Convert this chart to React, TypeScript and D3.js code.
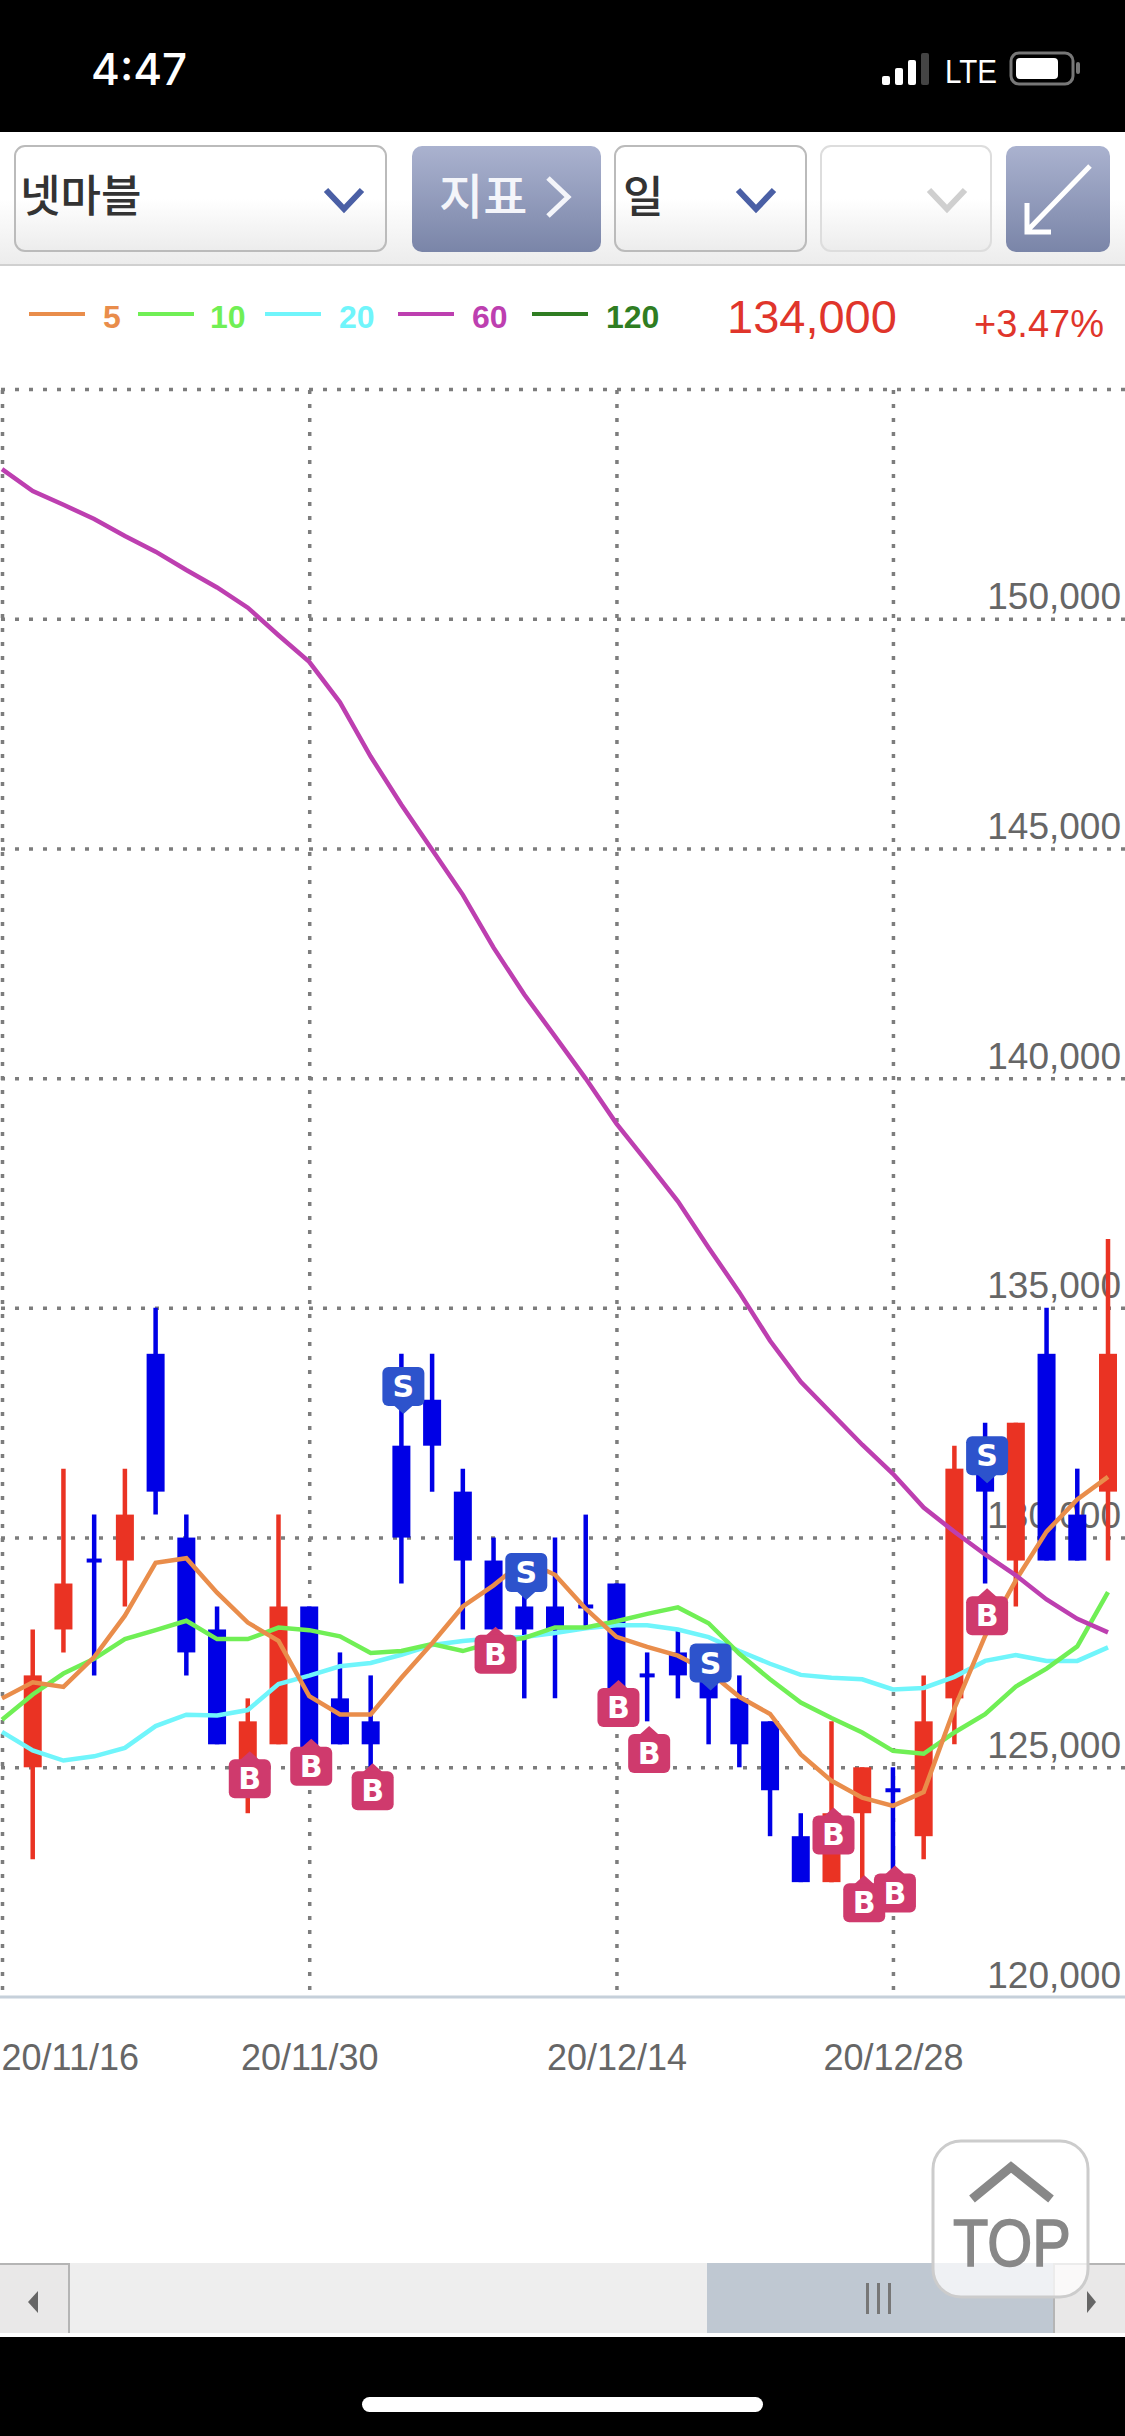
import React, { useEffect, useRef } from "react";
import * as d3 from "d3";

const dates = [
  "20/11/16", "20/11/17", "20/11/18", "20/11/19", "20/11/20", "20/11/23", "20/11/24", "20/11/25", "20/11/26", "20/11/27",
  "20/11/30", "20/12/01", "20/12/02", "20/12/03", "20/12/04", "20/12/07", "20/12/08", "20/12/09", "20/12/10", "20/12/11",
  "20/12/14", "20/12/15", "20/12/16", "20/12/17", "20/12/18", "20/12/21", "20/12/22", "20/12/23", "20/12/24", "20/12/28",
  "20/12/29", "20/12/30", "21/01/04", "21/01/05", "21/01/06", "21/01/07", "21/01/08",
];
const dateTicks = ["20/11/16", "20/11/30", "20/12/14", "20/12/28"];
const priceTicks = [120000, 125000, 130000, 135000, 140000, 145000, 150000];

// candles start at the second date, the first one is scrolled off
const candleDates = dates.slice(1);
const opens = [125000, 128000, 129500, 129500, 134000, 130000, 128000, 125000, 125500, 128500, 126500, 126000, 132000, 133000, 131000, 129500, 128500, 128500, 128500, 129000, 127000, 127500, 127000, 126500, 126000, 123500, 122500, 124000, 124500, 123500, 126500, 132000, 129500, 134000, 130500, 131000];
const closes = [127000, 129000, 129500, 130500, 131000, 127500, 125500, 126000, 128500, 125000, 125500, 125500, 130000, 132000, 129500, 128000, 128000, 128000, 128500, 126500, 127000, 127000, 126500, 125500, 124500, 122500, 124000, 125000, 124500, 126000, 131500, 131000, 132500, 129500, 129500, 134000];
const highs = [128000, 131500, 130500, 131500, 135000, 130500, 128500, 126500, 130500, 128500, 127500, 127000, 134000, 134000, 131500, 130000, 129000, 130000, 130500, 129000, 127500, 128000, 127500, 127000, 126000, 124000, 126000, 125000, 125000, 127000, 132000, 132500, 132500, 135000, 131500, 136500];
const lows = [123000, 127500, 127000, 128500, 130500, 127000, 125500, 124000, 125500, 125000, 125500, 125000, 129000, 131000, 128000, 128000, 126500, 126500, 128000, 126500, 126000, 126500, 125500, 125000, 123500, 122500, 122500, 122500, 122500, 123000, 125500, 129000, 128500, 129500, 129500, 129500];

const ma5 = [126500, 126850, 126750, 127400, 128300, 129450, 129550, 128800, 128150, 127750, 126550, 126150, 126150, 126950, 127700, 128500, 128960, 129500, 129190, 128450, 127840, 127620, 127430, 127085, 126535, 126160, 125280, 124705, 124340, 124160, 124460, 126280, 127860, 129070, 130130, 130830, 131320];
const ma10 = [126035, 126585, 127040, 127360, 127790, 127985, 128190, 127790, 127790, 128040, 127985, 127850, 127490, 127530, 127680, 127530, 127720, 127815, 128045, 128045, 128180, 128340, 128480, 128135, 127470, 126916, 126410, 126074, 125758, 125358, 125295, 125758, 126158, 126758, 127147, 127632, 128811];
const ma20 = [125770, 125366, 125147, 125238, 125421, 125897, 126145, 126126, 126245, 126813, 126996, 127198, 127271, 127450, 127660, 127751, 127806, 127834, 127925, 128026, 128090, 128090, 127998, 127834, 127530, 127253, 127011, 126947, 126916, 126695, 126726, 126968, 127316, 127442, 127316, 127316, 127611];
const ma60 = [153256, 152780, 152480, 152170, 151800, 151460, 151060, 150680, 150240, 149640, 149060, 148180, 147000, 145950, 144970, 143990, 142840, 141820, 140910, 139990, 139010, 138170, 137320, 136310, 135337, 134284, 133390, 132705, 132021, 131389, 130653, 130126, 129632, 129179, 128653, 128232, 127937];

const buyDates = ["20/11/26", "20/11/30", "20/12/02", "20/12/08", "20/12/14", "20/12/15", "20/12/23", "20/12/28", "20/12/24", "21/01/04"];
const buyLevels = [125350, 125620, 125090, 128060, 126900, 125900, 124126, 122860, 122650, 128895];
const sellDates = ["20/12/03", "20/12/09", "20/12/17", "21/01/04"];
const sellLevels = [132690, 128640, 126670, 131180];

const legendLabels = ["5", "10", "20", "60", "120"];
const legendColors = ["#e98d4b", "#70ef55", "#70f5fb", "#bd3fb0", "#2f7d22"];
const legendLineX = [29, 138, 265, 398, 532];
const legendTextX = [103, 210, 339, 472, 606];

const RED = "#ea3323";
const BLUE = "#0000e6";
const BUY = "#cf3a6d";
const SELL = "#2d53cc";
const SANS = "'Liberation Sans', sans-serif";
const CJK = "'Noto Sans CJK KR', sans-serif";

const Chevron = ({ x, color }: { x: number; color: string }) => (
  <path d={`M${x + 2},190 L${x + 20},209 L${x + 38},190`} fill="none" stroke={color} strokeWidth={6} />
);

export default function App() {
  const chartRef = useRef<SVGGElement>(null);

  useEffect(() => {
    const g = d3.select(chartRef.current);
    g.selectAll("*").remove();

    const x = d3.scalePoint<string>().domain(dates).range([2, 1108]);
    const y = d3.scaleLinear().domain([120000, 155000]).range([1997, 389]);

    // horizontal grid and price labels sit under the candles
    const yAxis = d3.axisLeft(y)
      .tickValues([...priceTicks, 155000])
      .tickSize(1125)
      .tickFormat((d) => (+d === 155000 ? "" : d3.format(",")(+d)));
    const yg = g.append("g").attr("transform", "translate(1125,0)").call(yAxis);
    yg.select(".domain").remove();
    yg.selectAll(".tick line")
      .attr("stroke", (d: any) => (d === 120000 ? "none" : "#7d7d7d"))
      .attr("stroke-width", 3.5)
      .attr("stroke-dasharray", "4 10");
    yg.selectAll(".tick text")
      .attr("x", -4)
      .attr("y", -10)
      .attr("dy", 0)
      .attr("text-anchor", "end")
      .style("font-family", SANS)
      .style("font-size", "37px")
      .attr("fill", "#666");

    // vertical grid
    const xAxis = d3.axisBottom(x)
      .tickValues(dateTicks)
      .tickSize(1607);
    const xg = g.append("g").attr("transform", "translate(0,390)").call(xAxis);
    xg.select(".domain").remove();
    xg.selectAll(".tick line")
      .attr("stroke", "#7d7d7d")
      .attr("stroke-width", 3.5)
      .attr("stroke-dasharray", "4 10");
    xg.selectAll(".tick text")
      .attr("y", 1680)
      .attr("dy", 0)
      .attr("text-anchor", (d: any) => (d === "20/11/16" ? "start" : "middle"))
      .attr("x", (d: any) => (d === "20/11/16" ? -1 : 0))
      .style("font-family", SANS)
      .style("font-size", "36px")
      .attr("fill", "#666");

    // base line
    g.append("line")
      .attr("x1", 0).attr("x2", 1125)
      .attr("y1", y(120000)).attr("y2", y(120000))
      .attr("stroke", "#c6d0da")
      .attr("stroke-width", 3);

    // candles
    const candleColor = (i: number) => (closes[i] > opens[i] ? RED : BLUE);
    const candles = g.append("g").selectAll("g").data(candleDates).join("g");
    candles.append("line")
      .attr("x1", (d) => x(d)!).attr("x2", (d) => x(d)!)
      .attr("y1", (_, i) => y(highs[i]))
      .attr("y2", (_, i) => y(lows[i]))
      .attr("stroke", (_, i) => candleColor(i))
      .attr("stroke-width", 4.5);
    candles.append("rect")
      .attr("x", (d, i) => x(d)! - (opens[i] === closes[i] ? 7.5 : 9))
      .attr("width", (_, i) => (opens[i] === closes[i] ? 15 : 18))
      .attr("y", (_, i) => y(Math.max(opens[i], closes[i])) - (opens[i] === closes[i] ? 2 : 0))
      .attr("height", (_, i) => (opens[i] === closes[i] ? 4 : Math.abs(y(opens[i]) - y(closes[i]))))
      .attr("fill", (_, i) => candleColor(i));

    // moving averages
    const line = d3.line<number>().x((_, i) => x(dates[i])!).y((d) => y(d));
    [ma20, ma10, ma5, ma60].forEach((series, k) => {
      g.append("path")
        .attr("d", line(series))
        .attr("fill", "none")
        .attr("stroke", [legendColors[2], legendColors[1], legendColors[0], legendColors[3]][k])
        .attr("stroke-width", 4.5);
    });

    // B markers hang under their level, S markers sit above it
    const drawMarker = (date: string, level: number, kind: "B" | "S") => {
      const up = kind === "B";
      const m = g.append("g").attr("transform", `translate(${x(date)! + 2},${y(level)})`);
      m.append("path")
        .attr("d", up ? "M0,0 L-10,9 L10,9 Z" : "M0,0 L-10,-9 L10,-9 Z")
        .attr("fill", up ? BUY : SELL);
      m.append("rect")
        .attr("x", -21).attr("width", 42)
        .attr("y", up ? 8 : -47).attr("height", 39)
        .attr("rx", 6)
        .attr("fill", up ? BUY : SELL);
      m.append("text")
        .attr("y", up ? 38 : -17)
        .attr("text-anchor", "middle")
        .attr("fill", "#fff")
        .style("font-family", "'DejaVu Sans', sans-serif")
        .style("font-weight", 700)
        .style("font-size", "30px")
        .text(kind);
    };
    buyDates.forEach((d, i) => drawMarker(d, buyLevels[i], "B"));
    sellDates.forEach((d, i) => drawMarker(d, sellLevels[i], "S"));
  }, []);

  return (
    <svg width={1125} height={2436} style={{ position: "absolute", left: 0, top: 0, display: "block", background: "#fff" }}>
      <defs>
        <linearGradient id="bar" x1="0" y1="0" x2="0" y2="1">
          <stop offset="0" stopColor="#ffffff" />
          <stop offset="0.5" stopColor="#ffffff" />
          <stop offset="1" stopColor="#ececec" />
        </linearGradient>
        <linearGradient id="btn" x1="0" y1="0" x2="0" y2="1">
          <stop offset="0" stopColor="#aab2cf" />
          <stop offset="1" stopColor="#7a85a8" />
        </linearGradient>
      </defs>

      {/* status bar */}
      <rect width={1125} height={132} fill="#000" />
      <text x={91} y={85} fill="#fff" fontFamily="Inter, sans-serif" fontWeight={500} fontSize={44}>4:47</text>
      {[0, 1, 2].map((i) => (
        <rect key={i} x={882 + i * 13} y={76 - i * 8} width={8} height={9 + i * 8} rx={2} fill="#fff" />
      ))}
      <rect x={921} y={53} width={8} height={32} rx={2} fill="#444" />
      <text x={945} y={83} fill="#fff" fontFamily={SANS} fontSize={33} textLength={52} lengthAdjust="spacingAndGlyphs">LTE</text>
      <rect x={1011} y={53} width={62} height={31} rx={8} fill="none" stroke="#777" strokeWidth={3} />
      <rect x={1016} y={58} width={42} height={21} rx={4} fill="#fff" />
      <rect x={1076} y={62} width={4} height={12} rx={2} fill="#777" />

      {/* toolbar */}
      <rect y={132} width={1125} height={133} fill="url(#bar)" />
      <rect y={264} width={1125} height={2} fill="#d0d0d0" />
      <rect x={15} y={146} width={371} height={105} rx={10} fill="url(#bar)" stroke="#bbb" strokeWidth={2} />
      <text x={20} y={212} fill="#333" fontFamily={CJK} fontWeight={500} fontSize={44}>넷마블</text>
      <Chevron x={324} color="#4a5fa5" />
      <rect x={412} y={146} width={189} height={106} rx={10} fill="url(#btn)" />
      <text x={439} y={214} fill="#f4f5fa" fontFamily={CJK} fontWeight={500} fontSize={48}>지표</text>
      <path d="M548,178 L568,197 L548,216" fill="none" stroke="#f4f5fa" strokeWidth={5} />
      <rect x={615} y={146} width={191} height={105} rx={10} fill="url(#bar)" stroke="#bbb" strokeWidth={2} />
      <text x={623} y={213} fill="#333" fontFamily={CJK} fontWeight={500} fontSize={44}>일</text>
      <Chevron x={736} color="#4a5fa5" />
      <rect x={821} y={146} width={170} height={105} rx={10} fill="url(#bar)" stroke="#ddd" strokeWidth={2} />
      <Chevron x={927} color="#cfcfcf" />
      <rect x={1006} y={146} width={104} height={106} rx={10} fill="url(#btn)" />
      <path d="M1090,166 L1027,231 M1027,203 L1027,232 L1051,232" fill="none" stroke="#fff" strokeWidth={5} />

      {/* legend */}
      {legendLabels.map((label, i) => (
        <g key={label}>
          <line x1={legendLineX[i]} x2={legendLineX[i] + 56} y1={314} y2={314} stroke={legendColors[i]} strokeWidth={4} />
          <text x={legendTextX[i]} y={328} fill={legendColors[i]} fontFamily={SANS} fontWeight={700} fontSize={32}>{label}</text>
        </g>
      ))}
      <text x={727} y={333} fill="#e0352b" fontFamily={SANS} fontSize={47}>134,000</text>
      <text x={974} y={337} fill="#e0352b" fontFamily={SANS} fontSize={38}>+3.47%</text>

      <g ref={chartRef} />

      {/* scrollbar */}
      <rect y={2263} width={1125} height={70} fill="#eeeeee" />
      <rect x={707} y={2263} width={346} height={70} fill="#bfc8d2" />
      <rect y={2263} width={70} height={70} fill="#e9e8e8" />
      <path d="M0,2264 H69 V2333" fill="none" stroke="#b5b5b5" strokeWidth={2} />
      <rect x={1053} y={2263} width={72} height={70} fill="#e9e8e8" />
      <path d="M1054,2333 V2264 H1125" fill="none" stroke="#b5b5b5" strokeWidth={2} />
      <path d="M38,2291 V2313 L28,2302 Z" fill="#666" />
      <path d="M1087,2291 V2313 L1096,2302 Z" fill="#666" />
      {[0, 1, 2].map((i) => (
        <rect key={i} x={866 + i * 11} y={2283} width={3} height={31} fill="#777" />
      ))}

      {/* TOP button */}
      <rect x={933} y={2141} width={155} height={156} rx={28} fill="#fff" fillOpacity={0.75} stroke="#ccc" strokeWidth={3} />
      <path d="M972,2199 L1011,2167 L1051,2199" fill="none" stroke="#888" strokeWidth={9} />
      <text x={953} y={2266} fill="#888" stroke="#888" strokeWidth={1.5} fontFamily={SANS} fontSize={66} textLength={118} lengthAdjust="spacingAndGlyphs">TOP</text>

      {/* home bar */}
      <rect y={2337} width={1125} height={99} fill="#000" />
      <rect x={362} y={2397} width={401} height={15} rx={7.5} fill="#fff" />
    </svg>
  );
}
